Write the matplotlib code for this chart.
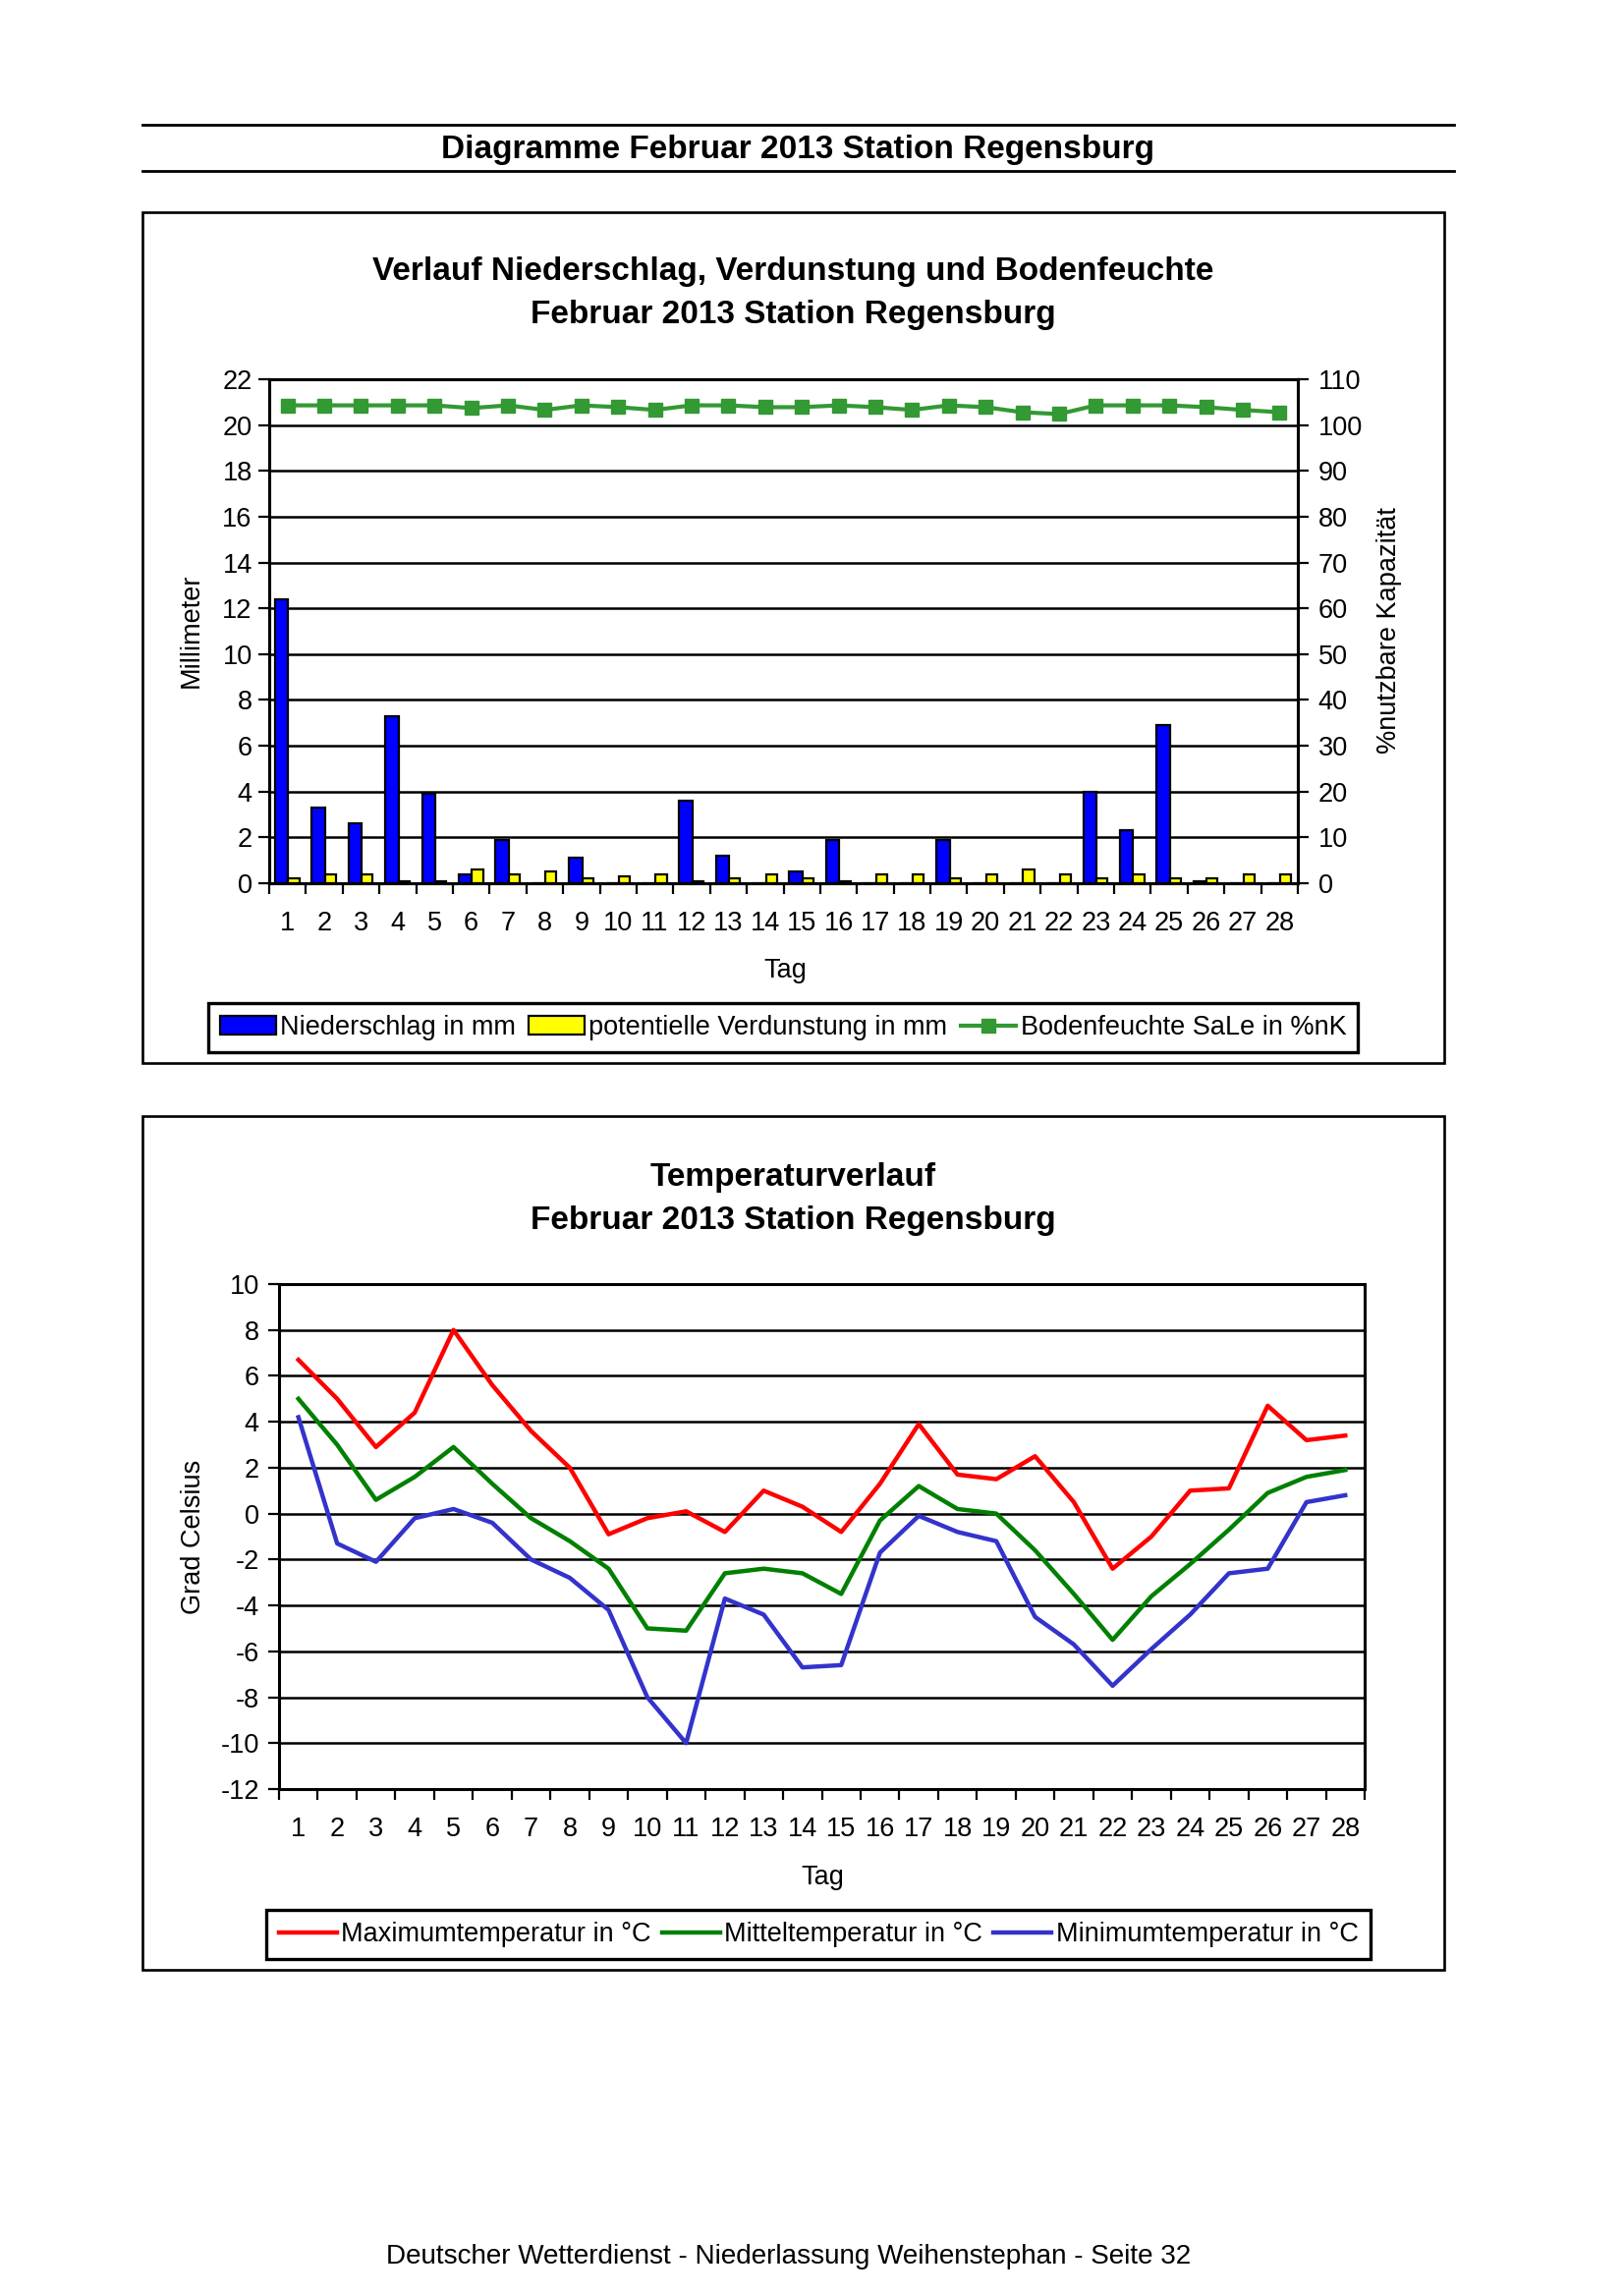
#!/usr/bin/env python3
"""Wetter-Diagramme Februar 2013, Station Regensburg (Niederschlag/Verdunstung/Bodenfeuchte + Temperatur)."""
import matplotlib
matplotlib.use("Agg")
import matplotlib.pyplot as plt
import matplotlib.patches as mpatches
from matplotlib.lines import Line2D
import numpy as np

plt.rcParams["font.family"] = ["Liberation Sans", "DejaVu Sans"]
plt.rcParams["axes.unicode_minus"] = False

W, H = 1653, 2337

# ── data ─────────────────────────────────────────────────────────────────────
days = list(range(1, 29))

niederschlag = [12.4, 3.3, 2.6, 7.3, 3.9, 0.4, 1.9, 0.0, 1.1, 0.0, 0.0, 3.6, 1.2, 0.0,
                0.5, 1.9, 0.0, 0.0, 1.9, 0.0, 0.0, 0.0, 4.0, 2.3, 6.9, 0.1, 0.0, 0.0]
verdunstung = [0.2, 0.4, 0.4, 0.1, 0.1, 0.6, 0.4, 0.5, 0.2, 0.3, 0.4, 0.1, 0.2, 0.4,
               0.2, 0.1, 0.4, 0.4, 0.2, 0.4, 0.6, 0.4, 0.2, 0.4, 0.2, 0.2, 0.4, 0.4]
bodenfeuchte = [104.3, 104.3, 104.3, 104.3, 104.3, 103.7, 104.3, 103.3, 104.3, 103.9,
                103.3, 104.3, 104.3, 103.9, 103.9, 104.3, 103.9, 103.3, 104.3, 103.9,
                102.8, 102.4, 104.3, 104.3, 104.3, 103.9, 103.3, 102.8]

tmax = [6.7, 5.0, 2.9, 4.4, 8.0, 5.6, 3.6, 2.0, -0.9, -0.2, 0.1, -0.8, 1.0, 0.3,
        -0.8, 1.3, 3.9, 1.7, 1.5, 2.5, 0.5, -2.4, -1.0, 1.0, 1.1, 4.7, 3.2, 3.4]
tmit = [5.0, 3.0, 0.6, 1.6, 2.9, 1.3, -0.2, -1.2, -2.4, -5.0, -5.1, -2.6, -2.4, -2.6,
        -3.5, -0.3, 1.2, 0.2, 0.0, -1.6, -3.5, -5.5, -3.6, -2.2, -0.7, 0.9, 1.6, 1.9]
tmin = [4.2, -1.3, -2.1, -0.2, 0.2, -0.4, -2.0, -2.8, -4.2, -8.0, -10.0, -3.7, -4.4, -6.7,
        -6.6, -1.7, -0.1, -0.8, -1.2, -4.5, -5.7, -7.5, -5.9, -4.4, -2.6, -2.4, 0.5, 0.8]

FS = 19.5
FS_TITLE = 24
GREEN_SOIL = "#339933"


def fx(x):
    return x / W


def fy(y):
    return 1 - y / H


def px_axes(fig, left, top, right, bottom):
    return fig.add_axes([fx(left), fy(bottom), (right - left) / W, (bottom - top) / H])


def day_axis(ax, ypad):
    ax.set_xlim(0, 28)
    ax.set_xticks(np.arange(29))
    ax.set_xticklabels([])
    ax.set_xticks(np.arange(28) + 0.5, minor=True)
    ax.set_xticklabels([str(d) for d in days], minor=True)
    ax.tick_params(axis="x", which="major", direction="out", length=8, width=1.6)
    ax.tick_params(axis="x", which="minor", length=0, pad=20, labelsize=FS)
    ax.tick_params(axis="y", direction="out", length=8, width=1.6, labelsize=FS, pad=ypad)
    ax.yaxis.grid(True, color="black", lw=1.8)
    ax.set_axisbelow(True)
    for s in ax.spines.values():
        s.set_linewidth(2.2)


def frame(fig, left, top, right, bottom):
    fig.add_artist(mpatches.Rectangle((fx(left), fy(bottom)), (right - left) / W, (bottom - top) / H,
                                      transform=fig.transFigure, fill=False, ec="black", lw=1.9))


# ── panel 1 — Niederschlag / Verdunstung / Bodenfeuchte ──────────────────────

def plot_wasser(fig):
    frame(fig, 145, 216, 1470, 1082)
    fig.text(fx(807), fy(276), "Verlauf Niederschlag, Verdunstung und Bodenfeuchte",
             ha="center", va="center", fontsize=FS_TITLE, fontweight="bold")
    fig.text(fx(807), fy(320), "Februar 2013 Station Regensburg",
             ha="center", va="center", fontsize=FS_TITLE, fontweight="bold")

    ax = px_axes(fig, 274, 386, 1321, 899)
    idx = np.arange(len(days))
    ax.bar(idx + 0.16, niederschlag, width=0.36, align="edge", color="#0000FF",
           edgecolor="black", lw=1.6, zorder=3)
    ax.bar(idx + 0.52, verdunstung, width=0.30, align="edge", color="#FFFF00",
           edgecolor="black", lw=1.6, zorder=3)
    ax.set_ylim(0, 22)
    ax.set_yticks(range(0, 23, 2))
    day_axis(ax, ypad=4.5)

    ax2 = ax.twinx()
    ax2.plot(idx + 0.5, bodenfeuchte, "-s", color=GREEN_SOIL, lw=3, ms=10.5, zorder=4)
    ax2.set_ylim(0, 110)
    ax2.set_yticks(range(0, 111, 10))
    ax2.tick_params(axis="y", direction="out", length=8, width=1.6, labelsize=FS, pad=7)
    for s in ax2.spines.values():
        s.set_linewidth(2.2)

    fig.text(fx(195), fy(642), "Millimeter", rotation=90, ha="center", va="center", fontsize=FS)
    fig.text(fx(1414), fy(642), "%nutzbare Kapazität", rotation=90, ha="center", va="center", fontsize=FS)
    fig.text(fx(799), fy(988), "Tag", ha="center", va="center", fontsize=FS)

    handles = [mpatches.Patch(fc="#0000FF", ec="black", lw=1.6, label="Niederschlag in mm"),
               mpatches.Patch(fc="#FFFF00", ec="black", lw=1.6, label="potentielle Verdunstung in mm"),
               Line2D([], [], color=GREEN_SOIL, lw=3, marker="s", ms=10.5, label="Bodenfeuchte SaLe in %nK")]
    leg = fig.legend(handles=handles, loc="center", bbox_to_anchor=(fx(797), fy(1046)), ncol=3,
                     fontsize=FS, frameon=True, fancybox=False, edgecolor="black", framealpha=1,
                     handlelength=2.1, handletextpad=0.15, columnspacing=0.5, borderpad=0.45,
                     borderaxespad=0)
    leg.get_frame().set_linewidth(2.4)


# ── panel 2 — Temperaturverlauf ──────────────────────────────────────────────

def plot_temperatur(fig):
    frame(fig, 145, 1136, 1470, 2005)
    fig.text(fx(807), fy(1198), "Temperaturverlauf",
             ha="center", va="center", fontsize=FS_TITLE, fontweight="bold")
    fig.text(fx(807), fy(1243), "Februar 2013 Station Regensburg",
             ha="center", va="center", fontsize=FS_TITLE, fontweight="bold")

    ax = px_axes(fig, 284, 1307, 1389, 1821)
    x = np.arange(len(days)) + 0.5
    ax.plot(x, tmax, color="#FF0000", lw=3.2, label="Maximumtemperatur in °C", zorder=3)
    ax.plot(x, tmit, color="#008000", lw=3.2, label="Mitteltemperatur in °C", zorder=3)
    ax.plot(x, tmin, color="#3333CC", lw=3.2, label="Minimumtemperatur in °C", zorder=3)
    ax.set_ylim(-12, 10)
    ax.set_yticks(range(-12, 11, 2))
    day_axis(ax, ypad=6.5)

    fig.text(fx(197), fy(1564), "Grad Celsius", rotation=90, ha="center", va="center", fontsize=FS)
    fig.text(fx(837), fy(1911), "Tag", ha="center", va="center", fontsize=FS)

    leg = fig.legend(*ax.get_legend_handles_labels(), loc="center", bbox_to_anchor=(fx(833), fy(1969)),
                     ncol=3, fontsize=FS, frameon=True, fancybox=False, edgecolor="black",
                     framealpha=1, handlelength=2.2, handletextpad=0.15, columnspacing=0.4,
                     borderpad=0.45, borderaxespad=0)
    leg.get_frame().set_linewidth(2.4)


def main():
    fig = plt.figure(figsize=(W / 100, H / 100), dpi=100)

    # page header
    for y in (127, 174):
        fig.add_artist(Line2D([fx(145), fx(1480)], [fy(y), fy(y)], transform=fig.transFigure,
                              color="black", lw=2))
    fig.text(fx(812), fy(153), "Diagramme Februar 2013 Station Regensburg",
             ha="center", va="center", fontsize=FS_TITLE, fontweight="bold")

    plot_wasser(fig)
    plot_temperatur(fig)

    fig.text(fx(803), fy(2297), "Deutscher Wetterdienst - Niederlassung Weihenstephan - Seite 32",
             ha="center", va="center", fontsize=20.1)

    fig.savefig("out.png", dpi=100)


if __name__ == "__main__":
    main()
